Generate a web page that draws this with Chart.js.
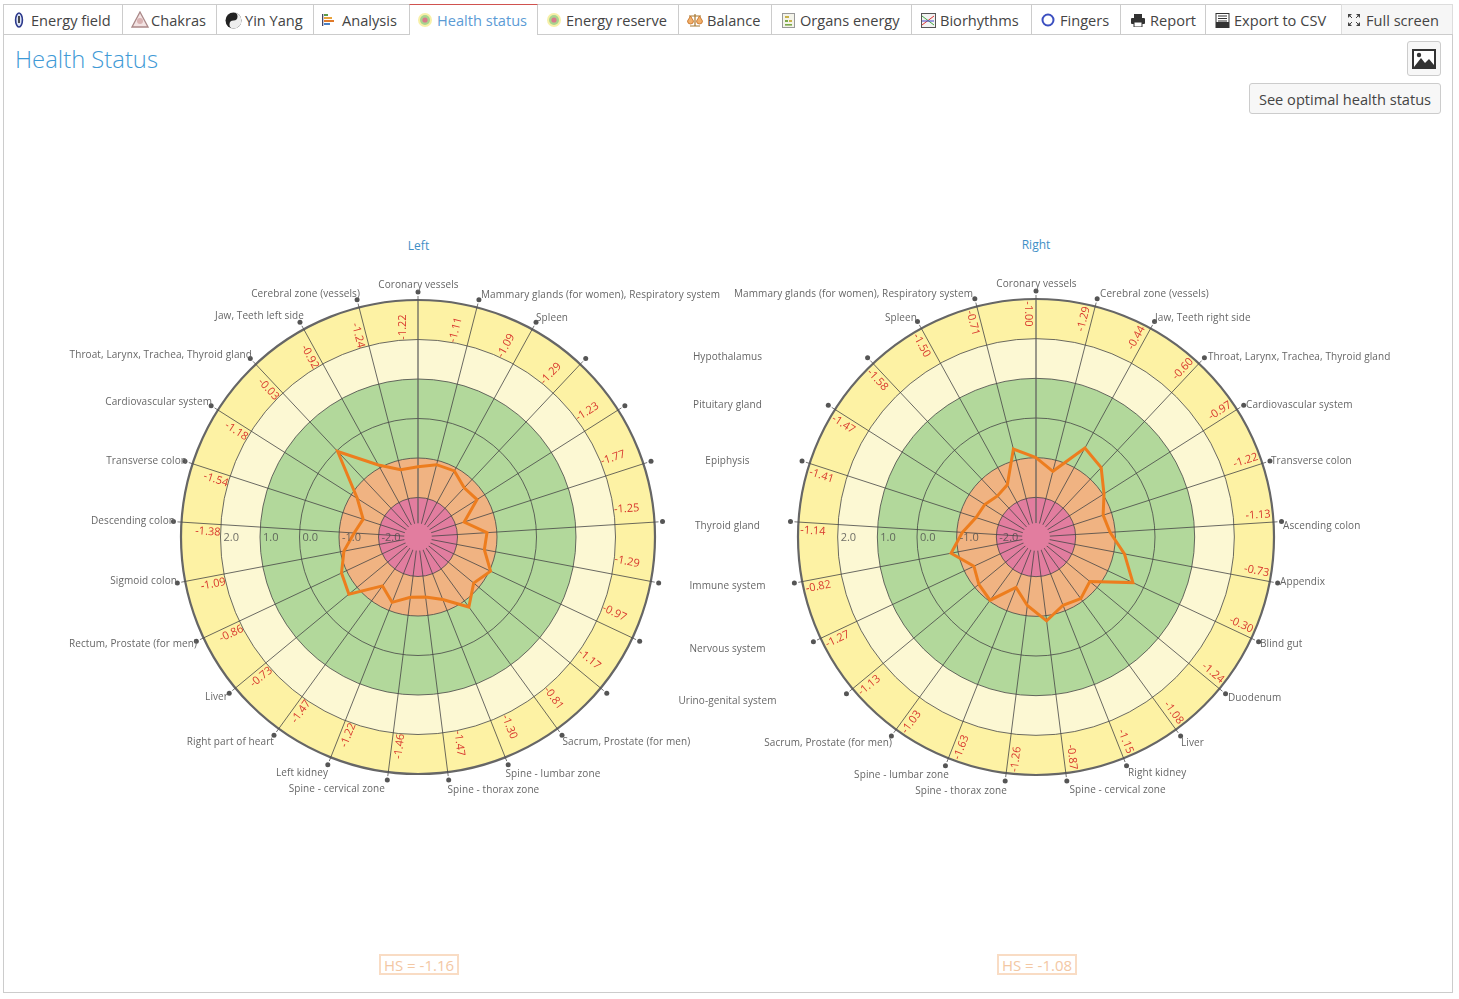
<!DOCTYPE html>
<html><head><meta charset="utf-8"><title>Health Status</title>
<script src="https://cdn.jsdelivr.net/npm/chart.js@4"></script>
<style>
html,body{margin:0;padding:0;background:#fff;overflow:hidden;width:1459px;height:999px;font-family:"Open Sans",sans-serif;color:#444}
.frame{position:absolute;left:3px;top:34px;width:1448px;height:957px;border:1px solid #ccc}
.tab{position:absolute;top:4px;height:30px;box-sizing:border-box;border:1px solid #ccc;border-right:none;border-bottom:none;background:#fff}
.tab.active{border-top:1px solid #d0524f;border-left:1px solid #ccc;border-right:1px solid #ccc;height:31px;z-index:3}
.tab.fs{background:#f6f6f6;border-right:1px solid #ddd;border-color:#ddd}
.t{position:absolute;top:9px;font-size:14.6px;line-height:22px;white-space:nowrap;color:#444;z-index:4}
.t.on{color:#5b9bd5}
svg.i{position:absolute;z-index:4}
h1{position:absolute;margin:0;left:15px;top:42px;font-size:23.8px;line-height:34px;font-weight:300;color:#3f9ad6;white-space:nowrap}
.btn{position:absolute;box-sizing:border-box;border:1px solid #ccc;border-radius:3px;background:#f7f7f7;color:#444;font-size:14.6px;white-space:nowrap;text-align:center}
.side{position:absolute;font-size:12px;line-height:14px;color:#3f8fc6;transform:translateX(-50%);white-space:nowrap}
.hs{position:absolute;box-sizing:border-box;width:80px;height:21px;border:2px solid #f9dcc4;color:#f3c7a3;font-size:15px;line-height:18px;text-align:center;white-space:nowrap}
canvas{position:absolute;top:92px}
</style></head><body>
<div class="frame"></div>
<div id="tabs"></div>
<h1>Health Status</h1>
<div class="btn" style="left:1407px;top:41px;width:34px;height:35px">
<svg width="24" height="20" viewBox="0 0 24 20" style="position:absolute;left:4px;top:7px"><rect x="1" y="1" width="22" height="18" fill="#fff" stroke="#333" stroke-width="2"/><path d="M2 18 L9 9 L13 14 L17 10 L22 16 V18Z" fill="#333"/><circle cx="7" cy="6" r="2.2" fill="#333"/></svg></div>
<div class="btn" style="left:1249px;top:83px;width:192px;height:31px;line-height:31px">See optimal health status</div>
<div class="side" style="left:418.5px;top:239px">Left</div>
<div class="side" style="left:1036px;top:238px">Right</div>
<div class="hs" style="left:379px;top:954px">HS = -1.16</div>
<div class="hs" style="left:997px;top:954px">HS = -1.08</div>
<canvas id="cL" width="740" height="890" style="left:48px"></canvas>
<canvas id="cR" width="740" height="890" style="left:666px"></canvas>
<script>
// ---------- data ----------
const leftLabels = ["Coronary vessels","Mammary glands (for women), Respiratory system","Spleen","Hypothalamus","Pituitary gland","Epiphysis","Thyroid gland","Immune system","Nervous system","Urino-genital system","Sacrum, Prostate (for men)","Spine - lumbar zone","Spine - thorax zone","Spine - cervical zone","Left kidney","Right part of heart","Liver","Rectum, Prostate (for men)","Sigmoid colon","Descending colon","Transverse colon","Cardiovascular system","Throat, Larynx, Trachea, Thyroid gland","Jaw, Teeth left side","Cerebral zone (vessels)"];
const rightLabels = ["Coronary vessels","Cerebral zone (vessels)","Jaw, Teeth right side","Throat, Larynx, Trachea, Thyroid gland","Cardiovascular system","Transverse colon","Ascending colon","Appendix","Blind gut","Duodenum","Liver","Right kidney","Spine - cervical zone","Spine - thorax zone","Spine - lumbar zone","Sacrum, Prostate (for men)","Urino-genital system","Nervous system","Immune system","Thyroid gland","Epiphysis","Pituitary gland","Hypothalamus","Spleen","Mammary glands (for women), Respiratory system"];
const leftValues = [-1.22,-1.11,-1.09,-1.29,-1.23,-1.77,-1.25,-1.29,-0.97,-1.17,-0.81,-1.30,-1.47,-1.46,-1.22,-1.47,-0.73,-0.86,-1.09,-1.38,-1.54,-1.18,-0.03,-0.92,-1.24];
const rightValues = [-1.00,-1.29,-0.44,-0.60,-0.97,-1.22,-1.13,-0.73,-0.30,-1.24,-1.08,-1.15,-0.87,-1.26,-1.63,-1.03,-1.13,-1.27,-0.82,-1.14,-1.41,-1.47,-1.58,-1.50,-0.71];
const tickValues = [-2,-1,0,1,2];
const bandEdges = [-3,-2,-1,1,2,3];
const bandColors = ["#e27d9f","#f0b382","#b2d89b","#fcf8d3","#fdf2a4"];
const tabNames = ["Energy field","Chakras","Yin Yang","Analysis","Health status","Energy reserve","Balance","Organs energy","Biorhythms","Fingers","Report","Export to CSV","Full screen"];

// ---------- layout of the page furniture ----------
// label text anchors in page pixels: [x, y, align]
const leftLabelPlaces = [[418.5,285.5,"center"],[481,295.5,"left"],[536,318.5,"left"],[727.5,357.5,"center"],[727.5,405.5,"center"],[727.5,461.5,"center"],[727.5,526.5,"center"],[727.5,586.5,"center"],[727.5,649.5,"center"],[727.5,701.5,"center"],[562.5,742.5,"left"],[505.5,774.5,"left"],[447.5,790.5,"left"],[385,789.5,"right"],[328,773.5,"right"],[274,742.5,"right"],[228,697.5,"right"],[197,644.5,"right"],[177,581.5,"right"],[175,521.5,"right"],[187,461.5,"right"],[212,402.5,"right"],[252,355.5,"right"],[304,316.5,"right"],[360,294.5,"right"]];
const rightLabelPlaces = [[1036.5,284.5,"center"],[1100,294.5,"left"],[1155,318.5,"left"],[1208,357.5,"left"],[1246,405.5,"left"],[1271,461.5,"left"],[1283,526.5,"left"],[1280,582.5,"left"],[1260,644.5,"left"],[1228,698.5,"left"],[1181,743.5,"left"],[1128,773.5,"left"],[1069.5,790.5,"left"],[1007,791.5,"right"],[949,775.5,"right"],[892,743.5,"right"],null,null,null,null,null,null,null,[917,318.5,"right"],[973,294.5,"right"]];
const tabEdges = [3,122,216,313,409,537,678,771,911,1031,1120,1205,1341,1452];
const tabTextX = [31,151,245,342,437,566,707,800,940,1060,1150,1234,1366];
const HUB_VALUE = -2.65;

// ---------- tabs ----------
const icons = [
 [14,12,18,'<ellipse cx="5" cy="9" rx="3.4" ry="7" fill="#dfe6f7" stroke="#2d3a8c" stroke-width="1.6"/><path d="M5 5v7" stroke="#222" stroke-width="1.6"/>'],
 [131,18,18,'<path d="M9 1 L17 16 H1Z" fill="#f3e3e3" stroke="#a88" stroke-width="1.3"/><circle cx="9" cy="10" r="3" fill="#d9b3b3"/>'],
 [225,17,17,'<circle cx="8.5" cy="8.5" r="8" fill="#222"/><path d="M8.5 .5a8 8 0 0 1 0 16a4 4 0 0 1 0-8a4 4 0 0 0 0-8Z" fill="#eee"/><circle cx="8.5" cy="4.5" r="1.4" fill="#222"/><circle cx="8.5" cy="12.5" r="1.4" fill="#eee"/>'],
 [322,12,14,'<rect x="0" y="1" width="1.3" height="12" fill="#446"/><rect x="2" y="1" width="4" height="2" fill="#5a9a4a"/><rect x="2" y="4" width="8" height="2" fill="#e8a33d"/><rect x="2" y="7" width="10" height="2" fill="#e07a2a"/><rect x="2" y="10" width="6" height="2" fill="#4a80c4"/>'],
 [418,14,14,'<circle cx="7" cy="7" r="7" fill="#f7f0a8"/><circle cx="7" cy="7" r="5" fill="#a9d48e"/><circle cx="7" cy="7" r="2.6" fill="#d97a8a"/>'],
 [547,14,14,'<circle cx="7" cy="7" r="7" fill="#f7f0a8"/><circle cx="7" cy="7" r="5" fill="#a9d48e"/><circle cx="7" cy="7" r="2.6" fill="#d97a8a"/>'],
 [687,16,15,'<path d="M8 1v12M3 13h10M2 3h12" stroke="#a5762e" stroke-width="1.2" fill="none"/><path d="M0.5 8a3 3 0 0 0 6 0L3.5 3ZM9.5 8a3 3 0 0 0 6 0L12.5 3Z" fill="#f2b06a" stroke="#c26b1e" stroke-width=".8"/>'],
 [782,13,15,'<rect x=".5" y=".5" width="12" height="14" fill="#f4f4ea" stroke="#999"/><rect x="3" y="3" width="4" height="2" fill="#c9b24a"/><rect x="3" y="7" width="3" height="2" fill="#7aa84a"/><rect x="7" y="7" width="3" height="2" fill="#c9b24a"/><rect x="3" y="11" width="7" height="1.6" fill="#7aa84a"/>'],
 [921,15,15,'<rect x=".5" y=".5" width="14" height="14" fill="#f2f2f2" stroke="#555"/><path d="M1 12L13 3" stroke="#d33"/><path d="M1 3L13 12" stroke="#4a4"/><path d="M1 8L13 8" stroke="#44c"/>'],
 [1041,14,14,'<circle cx="7" cy="7" r="5.5" fill="none" stroke="#3b4fc0" stroke-width="2"/>'],
 [1131,14,13,'<rect x="3" y="0" width="8" height="4" fill="#333"/><rect x="0" y="4" width="14" height="6" rx="1" fill="#333"/><rect x="3" y="8" width="8" height="5" fill="#fff" stroke="#333"/>'],
 [1215,15,15,'<rect x="1" y=".5" width="13" height="14" fill="#fff" stroke="#333"/><path d="M3 3h9M3 5.5h9M3 8h9" stroke="#333"/><rect x="1" y="9" width="13" height="5" fill="#333"/>'],
 [1348,12,12,'<path d="M0 0h4L0 4ZM12 0v4L8 0ZM0 12v-4l4 4ZM12 12h-4l4-4Z" fill="#444"/><path d="M1 1l3 3M11 1L8 4M1 11l3-3M11 11L8 8" stroke="#444"/>']
];
const tabsEl = document.getElementById('tabs');
tabNames.forEach((name,i)=>{
  const d=document.createElement('div');
  d.className='tab'+(i===4?' active':'')+(i===12?' fs':'');
  d.style.left=tabEdges[i]+'px';
  d.style.width=(tabEdges[i+1]-tabEdges[i]+(i===4||i===12?1:0))+'px';
  tabsEl.appendChild(d);
  const t=document.createElement('div');
  t.className='t'+(i===4?' on':'');
  t.style.left=tabTextX[i]+'px';
  t.textContent=name;
  tabsEl.appendChild(t);
  const [x,w,h,body]=icons[i];
  const s=document.createElementNS('http://www.w3.org/2000/svg','svg');
  s.setAttribute('class','i');s.setAttribute('width',w);s.setAttribute('height',h);
  s.setAttribute('viewBox','0 0 '+w+' '+h);
  s.style.left=x+'px';s.style.top=(20-h/2)+'px';
  s.innerHTML=body;
  tabsEl.appendChild(s);
});

// ---------- radial decoration plugin ----------
const radialDecor = {
  id:'radialDecor',
  beforeDraw(chart){
    const s=chart.scales.r, c=chart.ctx;
    c.save();
    for(let i=bandColors.length-1;i>=0;i--){
      c.beginPath();
      c.arc(s.xCenter,s.yCenter,s.getDistanceFromCenterForValue(bandEdges[i+1]),0,Math.PI*2);
      c.fillStyle=bandColors[i];
      c.fill();
    }
    c.restore();
  },
  beforeDatasetsDraw(chart){
    const s=chart.scales.r, c=chart.ctx, o=chart.options.plugins.radialDecor;
    c.save();
    c.beginPath();
    c.arc(s.xCenter,s.yCenter,s.getDistanceFromCenterForValue(HUB_VALUE),0,Math.PI*2);
    c.fillStyle=bandColors[0];
    c.fill();
    const rim=s.drawingArea;
    o.labels.forEach((_,i)=>{
      const a=s.getPointPosition(i,rim), b=s.getPointPosition(i,rim+4), d=s.getPointPosition(i,rim+8);
      c.beginPath();c.moveTo(a.x,a.y);c.lineTo(b.x,b.y);
      c.strokeStyle='rgba(80,80,80,.8)';c.lineWidth=1;c.stroke();
      c.beginPath();c.arc(d.x,d.y,2.5,0,Math.PI*2);c.fillStyle='#555';c.fill();
    });
    c.restore();
  },
  afterDatasetsDraw(chart){
    const s=chart.scales.r, c=chart.ctx, o=chart.options.plugins.radialDecor;
    c.save();
    c.font='11px "Open Sans"';c.fillStyle='rgba(75,75,75,.8)';c.textAlign='left';c.textBaseline='middle';
    tickValues.forEach(v=>{
      c.fillText(v.toFixed(1),s.xCenter-s.getDistanceFromCenterForValue(v)+3,s.yCenter+1);
    });
    c.font='11px "Open Sans"';c.fillStyle='#d8392f';c.textAlign='center';
    o.values.forEach((v,i)=>{
      const deg=i*360/o.values.length, rad=deg*Math.PI/180;
      const right=o.topIsRight?deg<180:(deg>0&&deg<180);
      const p=s.getPointPosition(i,o.labelRadius);
      const perp=right?o.perpRight:o.perpLeft;
      const x=p.x-Math.cos(rad)*perp, y=p.y-Math.sin(rad)*perp;
      c.save();c.translate(x,y);
      c.rotate((right?deg-90:deg+90)*Math.PI/180);
      c.fillText(v.toFixed(2),0,0);
      c.restore();
    });
    c.font='10px "Open Sans"';c.fillStyle='#666';c.textBaseline='middle';
    if('letterSpacing' in c) c.letterSpacing='0.1px';
    const ox=chart.canvas.offsetLeft, oy=chart.canvas.offsetTop;
    o.labels.forEach((t,i)=>{
      const pl=o.places[i]; if(!pl) return;
      c.textAlign=pl[2];
      c.fillText(t,pl[0]-ox,pl[1]-oy);
    });
    c.restore();
  }
};

function makeChart(id,labels,values,places,labelRadius,perpRight,perpLeft,topIsRight,padX,padY){
  return new Chart(document.getElementById(id),{
    type:'radar',
    data:{labels,datasets:[{data:values,borderColor:'#ed7d1e',borderWidth:3,backgroundColor:'transparent',fill:false,pointRadius:0,pointHoverRadius:0,tension:0}]},
    options:{
      responsive:false,animation:false,
      layout:{padding:{left:padX,right:padX,top:padY,bottom:padY}},
      plugins:{legend:{display:false},title:{display:false},tooltip:{enabled:false},
        radialDecor:{labels,values,places,labelRadius,perpRight,perpLeft,topIsRight}},
      scales:{r:{
        min:-3,max:3,startAngle:0,
        ticks:{display:false,stepSize:1},
        pointLabels:{display:false},
        grid:{circular:true,
          color:c=>c.tick&&c.tick.value===3?'#666':'rgba(70,70,70,.8)',
          lineWidth:c=>c.tick&&c.tick.value===3?2.2:1},
        angleLines:{display:true,
          color:c=>c.index===0?'rgba(90,90,90,.6)':'rgba(70,70,70,.8)',
          lineWidth:c=>c.index===0?2:1}
      }}
    },
    plugins:[radialDecor]
  });
}
makeChart('cL',leftLabels,leftValues,leftLabelPlaces,210,15,8,true,133,208);
makeChart('cR',rightLabels,rightValues,rightLabelPlaces,223,8,8,false,132,207);
</script>
</body></html>
